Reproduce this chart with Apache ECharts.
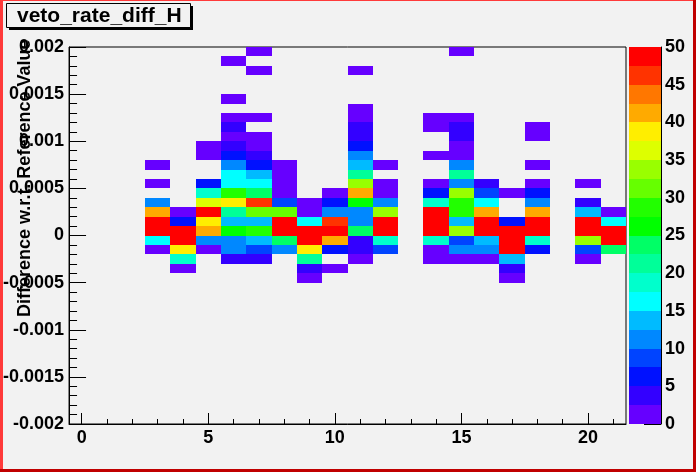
<!DOCTYPE html>
<html><head><meta charset="utf-8">
<script src="https://cdn.jsdelivr.net/npm/echarts@6/dist/echarts.min.js"></script>
<style>html,body{margin:0;padding:0;background:#f2f2f2}#c{width:696px;height:472px}</style>
</head><body><div id="c"></div>
<script>
const chartTitle = 'veto_rate_diff_H';
const yTitle = 'Difference w.r.t. Reference Value';
const xMajorTicks = [0, 5, 10, 15, 20];
const xMinorTicks = [0,1,2,3,4,5,6,7,8,9,10,11,12,13,14,15,16,17,18,19,20,21];
const xRange = [-0.5, 21.5];
const yRange = [-0.002, 0.002];
const yTickStep = 0.0005;
const xBinWidth = 1;
const yBinWidth = 0.0001;
const zRange = [0, 50];
const zTickStep = 5;
const levelEdges = [0,2.5,5,7.5,10,12.5,15,17.5,20,22.5,25,27.5,30,32.5,35,37.5,40,42.5,45,47.5,50];
const levelColors = ['#6600ff','#3300ff','#0011ff','#0044ff','#0088ff','#00bbff','#00ffff','#00ffcc','#00ff99','#00ff66',
                     '#00ff00','#22ff00','#66ff00','#99ff00','#ddff00','#ffee00','#ffaa00','#ff7700','#ff3300','#ff0000'];
// [x bin centre, y bin centre, entries]
const cells = [
 [3,0.00075,1],[3,0.00055,1],[3,0.00035,11],[3,0.00025,41],[3,0.00015,49],[3,0.00005,49],[3,-0.00005,16],[3,-0.00015,1],
 [4,0.00025,1],[4,0.00015,6],[4,0.00005,49],[4,-0.00005,49],[4,-0.00015,39],[4,-0.00025,19],[4,-0.00035,1],
 [5,0.00095,1],[5,0.00085,1],[5,0.00055,6],[5,0.00045,19],[5,0.00035,36],[5,0.00025,49],[5,0.00015,39],[5,0.00005,41],[5,-0.00005,11],[5,-0.00015,1],
 [6,0.00185,1],[6,0.00145,1],[6,0.00125,1],[6,0.00115,4],[6,0.00105,1],[6,0.00095,4],[6,0.00085,6],[6,0.00075,11],[6,0.00065,16],[6,0.00055,16],[6,0.00045,29],[6,0.00035,39],[6,0.00025,21],[6,0.00015,14],[6,0.00005,26],[6,-0.00005,11],[6,-0.00015,11],[6,-0.00025,4],
 [7,0.00195,1],[7,0.00175,1],[7,0.00125,1],[7,0.00105,1],[7,0.00095,1],[7,0.00085,4],[7,0.00075,6],[7,0.00065,14],[7,0.00055,16],[7,0.00045,24],[7,0.00035,46],[7,0.00025,31],[7,0.00015,14],[7,0.00005,29],[7,-0.00005,14],[7,-0.00015,9],[7,-0.00025,4],
 [8,0.00075,1],[8,0.00065,1],[8,0.00055,1],[8,0.00045,1],[8,0.00035,9],[8,0.00025,31],[8,0.00015,49],[8,0.00005,49],[8,-0.00005,24],[8,-0.00015,11],
 [9,0.00035,1],[9,0.00025,1],[9,0.00015,16],[9,0.00005,49],[9,-0.00005,49],[9,-0.00015,39],[9,-0.00025,21],[9,-0.00035,4],[9,-0.00045,1],
 [10,0.00045,1],[10,0.00035,6],[10,0.00025,11],[10,0.00015,46],[10,0.00005,49],[10,-0.00005,41],[10,-0.00015,6],[10,-0.00035,1],
 [11,0.00175,1],[11,0.00135,1],[11,0.00125,1],[11,0.00115,4],[11,0.00105,4],[11,0.00095,6],[11,0.00085,11],[11,0.00075,14],[11,0.00065,21],[11,0.00055,34],[11,0.00045,41],[11,0.00035,26],[11,0.00025,11],[11,0.00015,11],[11,0.00005,24],[11,-0.00005,4],[11,-0.00015,4],[11,-0.00025,1],
 [12,0.00075,1],[12,0.00055,1],[12,0.00045,1],[12,0.00035,11],[12,0.00025,34],[12,0.00015,49],[12,0.00005,49],[12,-0.00005,19],[12,-0.00015,9],
 [14,0.00125,1],[14,0.00115,1],[14,0.00085,1],[14,0.00055,1],[14,0.00045,6],[14,0.00035,19],[14,0.00025,49],[14,0.00015,49],[14,0.00005,49],[14,-0.00005,19],[14,-0.00015,1],[14,-0.00025,1],
 [15,0.00195,1],[15,0.00125,1],[15,0.00115,4],[15,0.00105,4],[15,0.00095,1],[15,0.00085,1],[15,0.00075,11],[15,0.00065,21],[15,0.00055,11],[15,0.00045,34],[15,0.00035,29],[15,0.00025,29],[15,0.00015,14],[15,0.00005,34],[15,-0.00005,9],[15,-0.00015,11],[15,-0.00025,1],
 [16,0.00055,4],[16,0.00045,9],[16,0.00035,16],[16,0.00025,41],[16,0.00015,49],[16,0.00005,49],[16,-0.00005,14],[16,-0.00015,11],[16,-0.00025,1],
 [17,0.00045,1],[17,0.00015,6],[17,0.00005,49],[17,-0.00005,49],[17,-0.00015,49],[17,-0.00025,14],[17,-0.00035,4],[17,-0.00045,1],
 [18,0.00115,1],[18,0.00105,1],[18,0.00075,1],[18,0.00055,1],[18,0.00045,6],[18,0.00035,11],[18,0.00025,41],[18,0.00015,49],[18,0.00005,49],[18,-0.00005,19],[18,-0.00015,6],
 [20,0.00055,1],[20,0.00035,4],[20,0.00025,14],[20,0.00015,49],[20,0.00005,49],[20,-0.00005,34],[20,-0.00015,9],[20,-0.00025,1],
 [21,0.00025,1],[21,0.00015,16],[21,0.00005,49],[21,-0.00005,49],[21,-0.00015,24]
];

const FONT = 'Liberation Sans, Arial, Helvetica, sans-serif';
const lbl = {color:'#000', fontFamily:FONT, fontWeight:'bold', fontSize:18};
const pieces = levelColors.map((c,i)=> i === levelColors.length-1
  ? {gte:levelEdges[i], lte:levelEdges[i+1], color:c}
  : {gte:levelEdges[i], lt:levelEdges[i+1], color:c});
const bands = levelColors.map((c,i)=>[levelEdges[i], levelEdges[i+1]]);

const chart = echarts.init(document.getElementById('c'), null, {renderer:'canvas'});
chart.setOption({
  animation:false,
  backgroundColor:'#f2f2f2',
  grid:[
    {left:69, top:47, width:557, height:377, show:true, borderColor:'#000', borderWidth:1, backgroundColor:'transparent'},
    {left:629, top:47, width:32, height:377}
  ],
  xAxis:[
    {gridIndex:0, type:'value', min:xRange[0], max:xRange[1], position:'bottom',
     axisLine:{show:true, onZero:false, lineStyle:{color:'#000', width:1}},
     axisTick:{show:true, inside:true, length:11, customValues:xMajorTicks, lineStyle:{color:'#000'}},
     axisLabel:Object.assign({margin:5, customValues:xMajorTicks}, lbl),
     splitLine:{show:false}},
    {gridIndex:0, type:'value', min:xRange[0], max:xRange[1], position:'bottom', offset:0,
     axisLine:{show:false, onZero:false},
     axisTick:{show:true, inside:true, length:5, customValues:xMinorTicks, lineStyle:{color:'#000'}},
     axisLabel:{show:false}, splitLine:{show:false}},
    {gridIndex:1, type:'value', min:0, max:1, show:false, axisLine:{onZero:false}}
  ],
  yAxis:[
    {gridIndex:0, type:'value', min:yRange[0], max:yRange[1], interval:yTickStep, position:'left',
     axisLine:{show:true, onZero:false, lineStyle:{color:'#000'}},
     axisTick:{show:true, inside:true, length:17, lineStyle:{color:'#000'}},
     minorTick:{show:true, splitNumber:5, length:8, lineStyle:{color:'#000'}},
     axisLabel:Object.assign({margin:5, formatter:v=>String(+v.toFixed(4))}, lbl),
     splitLine:{show:false}},
    {gridIndex:1, type:'value', position:'right', min:zRange[0], max:zRange[1], interval:zTickStep,
     axisLine:{show:true, onZero:false, lineStyle:{color:'#000'}},
     axisTick:{show:true, inside:true, length:17, lineStyle:{color:'#000'}},
     axisLabel:Object.assign({margin:4}, lbl),
     splitLine:{show:false}}
  ],
  visualMap:{type:'piecewise', show:false, dimension:2, seriesIndex:0, pieces:pieces},
  series:[
    {type:'custom', xAxisIndex:0, yAxisIndex:0, data:cells, encode:{x:0, y:1},
     renderItem:function(params, api){
       const x = api.value(0), y = api.value(1);
       const p0 = api.coord([x - xBinWidth/2, y + yBinWidth/2]);
       const p1 = api.coord([x + xBinWidth/2, y - yBinWidth/2]);
       const x0 = Math.round(p0[0]), y0 = Math.round(p0[1]);
       const x1 = Math.round(p1[0]), y1 = Math.round(p1[1]);
       return {type:'rect', shape:{x:x0, y:y0, width:x1-x0, height:y1-y0},
               style:{fill:api.visual('color')}};
     }},
    {type:'custom', xAxisIndex:2, yAxisIndex:1, data:bands, encode:{y:[0,1]},
     renderItem:function(params, api){
       const p0 = api.coord([0, api.value(1)]);
       const p1 = api.coord([1, api.value(0)]);
       const x0 = Math.round(p0[0]), y0 = Math.round(p0[1]);
       const x1 = Math.round(p1[0]), y1 = Math.round(p1[1]);
       return {type:'rect', shape:{x:x0, y:y0, width:x1-x0, height:y1-y0},
               style:{fill:levelColors[params.dataIndex]}};
     }}
  ],
  graphic:[
    {type:'rect', shape:{x:0, y:0, width:3, height:472}, style:{fill:'#ff3a3a'}, silent:true},
    {type:'rect', shape:{x:0, y:0, width:696, height:1}, style:{fill:'#ff3a3a'}, silent:true},
    {type:'rect', shape:{x:693, y:0, width:3, height:472}, style:{fill:'#c00000'}, silent:true},
    {type:'rect', shape:{x:0, y:469, width:696, height:3}, style:{fill:'#c00000'}, silent:true},
    {type:'rect', shape:{x:9, y:6, width:184, height:24}, style:{fill:'#000'}, silent:true},
    {type:'rect', shape:{x:6.5, y:3.5, width:184, height:24}, style:{fill:'#f2f2f2', stroke:'#000', lineWidth:1}, silent:true},
    {type:'text', x:17, y:16, style:{text:chartTitle, font:'bold 21px '+FONT, fill:'#000', textAlign:'left', textVerticalAlign:'middle'}, silent:true},
    {type:'text', x:25, y:317, rotation:Math.PI/2, style:{text:yTitle, font:'bold 18px '+FONT, fill:'#000', textAlign:'left', textVerticalAlign:'middle'}, silent:true}
  ]
});
</script>
</body></html>
